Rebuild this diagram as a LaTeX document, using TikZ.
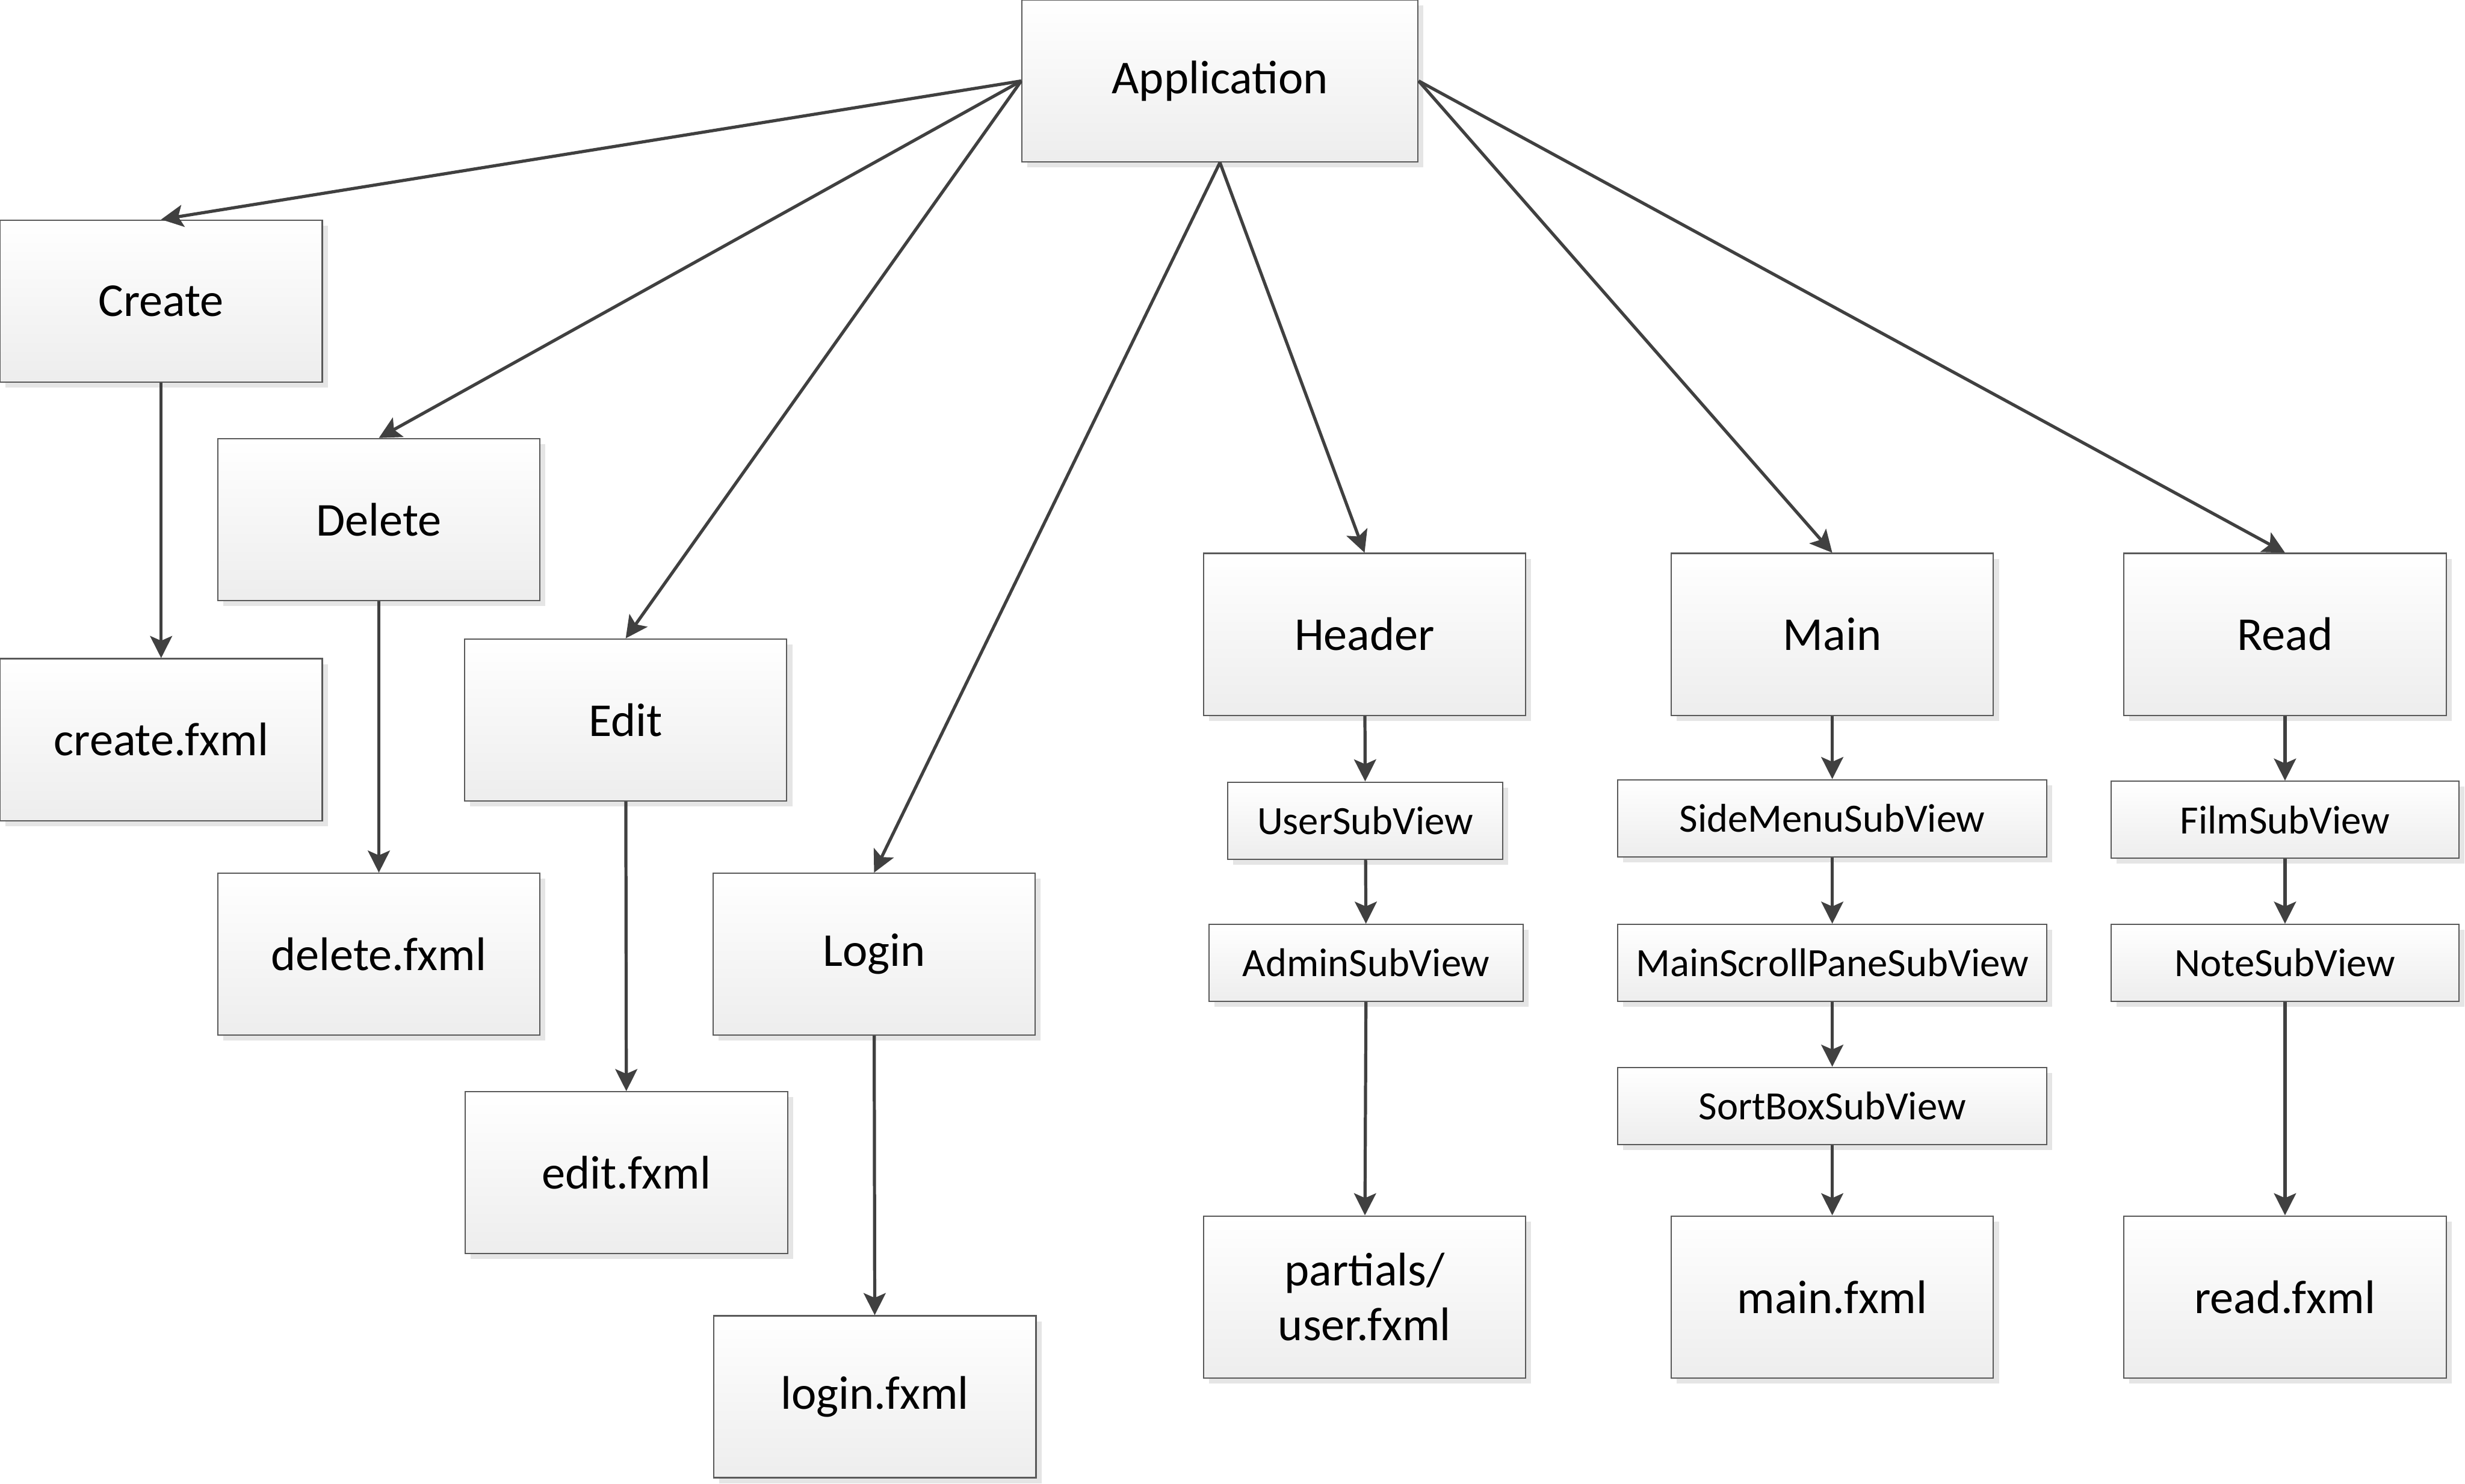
\documentclass[tikz,border=0pt]{standalone}
\usepackage{fontspec}
\setmainfont{Carlito}
\usetikzlibrary{arrows.meta, positioning, shadows}
\usepackage{xcolor}
\def\boxw{205pt}
\def\boxh{103pt}

\begin{document}
\begin{tikzpicture}[x=1pt,y=1pt,line width=2pt,draw=black!75,-{Stealth[length=14pt,width=14pt,inset=3pt]}]
    \tikzstyle{view}=[rectangle,draw=black!65,line width=0.8pt,top color=white,bottom color=black!7,
        drop shadow={shadow xshift=3.5pt,shadow yshift=-3.5pt,fill=black!10,opacity=1},
        minimum width=\boxw,minimum height=\boxh,inner sep=0pt,align=center,
        font=\fontsize{30}{35}\selectfont]
    \tikzstyle{root view}=[view,minimum width=252pt]
    \tikzstyle{sub view}=[view,minimum height=49pt,font=\fontsize{25.5}{29}\selectfont]

    \useasboundingbox (0,0) rectangle (1568,-944);

    % Draw the application node
    \node[root view] (app) at (776,-51.5) {Application};

    % Draw the left views and their fxml files
    \node[view] (create) at (102.5,-191.5) {Create};
    \node[view] (create-f) at (102.5,-470.5) {create.fxml};
    \node[view] (delete) at (241,-330.5) {Delete};
    \node[view] (delete-f) at (241,-607) {delete.fxml};
    \node[view] (edit) at (398,-458) {Edit};
    \node[view] (edit-f) at (398.5,-746) {edit.fxml};
    \node[view] (login) at (556,-607) {Login};
    \node[view] (login-f) at (556.5,-888.5) {login.fxml};

    % Draw the header column
    \node[view] (header) at (868,-403.5) {Header};
    \node[sub view,minimum width=175pt] (user-sv) at (868.5,-522) {UserSubView};
    \node[sub view,minimum width=200pt] (admin-sv) at (869,-612.5) {AdminSubView};
    \node[view] (header-f) at (868,-825) {partials/\\user.fxml};

    % Draw the main column
    \node[view] (main) at (1165.5,-403.5) {Main};
    \foreach \name/\txt/\y in {side-sv/SideMenuSubView/520.5,scroll-sv/MainScrollPaneSubView/612.5,sort-sv/SortBoxSubView/703.5}
        \node[sub view,minimum width=273pt] (\name) at (1165.5,-\y) {\txt};
    \node[view] (main-f) at (1165.5,-825) {main.fxml};

    % Draw the read column
    \node[view] (read) at (1453.5,-403.5) {Read};
    \foreach \name/\txt/\y in {film-sv/FilmSubView/521.5,note-sv/NoteSubView/612.5}
        \node[sub view,minimum width=221pt] (\name) at (1453.5,-\y) {\txt};
    \node[view] (read-f) at (1453.5,-825) {read.fxml};

    % Connect the application with every view
    \foreach \dest in {create,delete,edit}
        \draw (app.west) -- (\dest.north);
    \foreach \dest in {login,header}
        \draw (app.south) -- (\dest.north);
    \foreach \dest in {main,read}
        \draw (app.east) -- (\dest.north);

    % Connect the views down to their fxml files
    \foreach \source/\dest in {create/create-f,delete/delete-f,edit/edit-f,login/login-f,
        header/user-sv,user-sv/admin-sv,admin-sv/header-f,
        main/side-sv,side-sv/scroll-sv,scroll-sv/sort-sv,sort-sv/main-f,
        read/film-sv,film-sv/note-sv,note-sv/read-f}
        \draw (\source) -- (\dest);

\end{tikzpicture}
\end{document}
